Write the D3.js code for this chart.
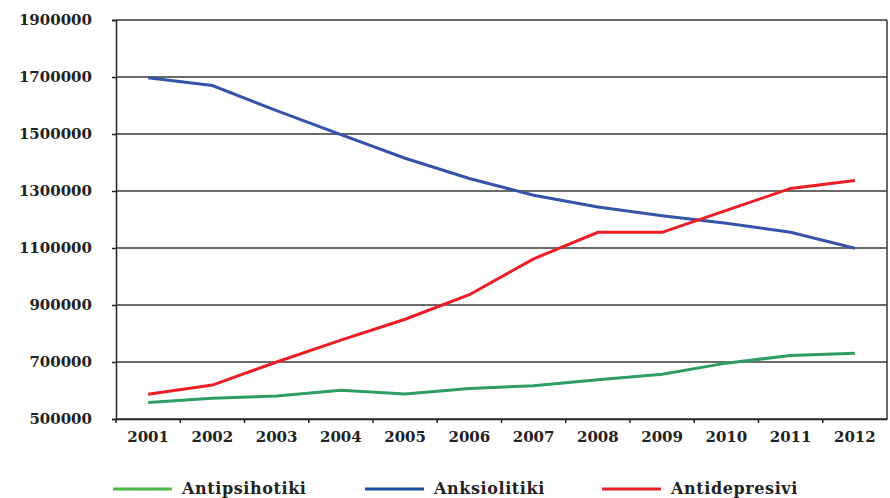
<!DOCTYPE html>
<html>
<head>
<meta charset="utf-8">
<script src="https://cdn.jsdelivr.net/npm/d3@7"></script>
<style>
body { margin: 0; background: #fff; }
text { font-family: "DejaVu Serif", serif; font-weight: bold; fill: #222; }
</style>
</head>
<body>
<div id="chart"></div>
<script>
var years = ["2001","2002","2003","2004","2005","2006","2007","2008","2009","2010","2011","2012"];
var antipsihotiki = [558000, 573000, 581000, 601000, 588000, 607000, 617000, 638000, 657000, 696000, 723000, 731000];
var anksiolitiki = [1697000, 1670000, 1582000, 1498000, 1415000, 1344000, 1285000, 1244000, 1213000, 1187000, 1155000, 1099000];
var antidepresivi = [587000, 619000, 700000, 777000, 850000, 936000, 1062000, 1155000, 1155000, 1232000, 1309000, 1337000];
var yTicks = [500000, 700000, 900000, 1100000, 1300000, 1500000, 1700000, 1900000];

var series = [
  {name: "Antipsihotiki", values: antipsihotiki, color: "#2e9e62", legend: "#4cb84a"},
  {name: "Anksiolitiki", values: anksiolitiki, color: "#3553a8", legend: "#1f4fa0"},
  {name: "Antidepresivi", values: antidepresivi, color: "#ee1d25", legend: "#e8202a"}
];

var margin = {top: 20, right: 3, bottom: 79, left: 116},
  width = 890 - margin.left - margin.right,
  height = 498 - margin.top - margin.bottom;

var svg = d3.select("#chart")
  .append("svg")
  .attr("width", 890)
  .attr("height", 498)
  .append("g")
  .attr("transform", "translate(" + margin.left + "," + margin.top + ")");

var x = d3.scaleBand()
  .domain(years)
  .range([0, width])
  .padding(0);

var y = d3.scaleLinear()
  .domain([500000, 1900000])
  .range([height, 0]);

// gridlines
svg.selectAll(".grid")
  .data(yTicks)
  .enter()
  .append("line")
  .attr("x1", 0)
  .attr("x2", width)
  .attr("y1", function(d) { return y(d); })
  .attr("y2", function(d) { return y(d); })
  .attr("stroke", "#3a3a3a")
  .attr("stroke-width", 1.5);

// right border
svg.append("line")
  .attr("x1", width).attr("x2", width)
  .attr("y1", 0).attr("y2", height)
  .attr("stroke", "#3a3a3a")
  .attr("stroke-width", 1.5);

var yAxis = svg.append("g")
  .call(d3.axisLeft(y).tickValues(yTicks).tickSize(4).tickPadding(20).tickFormat(d3.format("d")));
yAxis.select(".domain").attr("stroke", "#222").attr("stroke-width", 1.5);
yAxis.selectAll(".tick line").attr("stroke", "#222").attr("stroke-width", 1.5);
yAxis.selectAll("text").style("font-size", "15px").attr("fill", "#222");

var xAxis = svg.append("g")
  .attr("transform", "translate(0," + height + ")")
  .call(d3.axisBottom(x).tickSize(0).tickPadding(12));
xAxis.select(".domain").attr("stroke", "#222").attr("stroke-width", 1.5);
xAxis.selectAll("text").style("font-size", "15px").attr("fill", "#222");

// x ticks at category boundaries
svg.selectAll(".xtick")
  .data(years)
  .enter()
  .append("line")
  .attr("x1", function(d) { return x(d); })
  .attr("x2", function(d) { return x(d); })
  .attr("y1", height)
  .attr("y2", height + 4)
  .attr("stroke", "#222")
  .attr("stroke-width", 1.5);

var line = d3.line()
  .x(function(d, i) { return x(years[i]) + x.bandwidth() / 2; })
  .y(function(d) { return y(d); });

svg.selectAll(".series")
  .data(series)
  .enter()
  .append("path")
  .attr("d", function(d) { return line(d.values); })
  .attr("fill", "none")
  .attr("stroke", function(d) { return d.color; })
  .attr("stroke-width", 3);

// legend
var legendX = [113, 365, 602];
var legend = d3.select("svg").selectAll(".legend")
  .data(series)
  .enter()
  .append("g")
  .attr("transform", function(d, i) { return "translate(" + legendX[i] + ",489)"; });

legend.append("line")
  .attr("x1", 0).attr("x2", 59)
  .attr("y1", 0).attr("y2", 0)
  .attr("stroke", function(d) { return d.legend; })
  .attr("stroke-width", 3);

legend.append("text")
  .attr("x", 69)
  .attr("y", 5)
  .style("font-size", "16px")
  .style("letter-spacing", "0.6px")
  .text(function(d) { return d.name; });
</script>
</body>
</html>
